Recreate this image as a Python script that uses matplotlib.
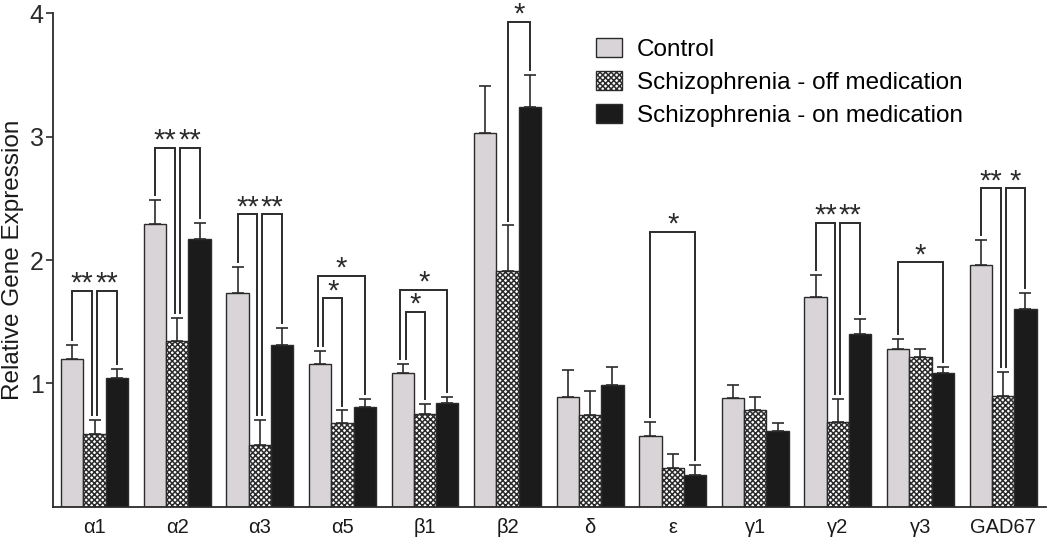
import matplotlib
matplotlib.use("Agg")
import matplotlib.pyplot as plt
import numpy as np

plt.rcParams['font.family'] = ['Liberation Sans', 'DejaVu Sans']
plt.rcParams['hatch.linewidth'] = 1.1

# %% data
genes = ['α1', 'α2', 'α3', 'α5', 'β1', 'β2', 'δ', 'ε', 'γ1', 'γ2', 'γ3', 'GAD67']
series = ['Control', 'Schizophrenia - off medication', 'Schizophrenia - on medication']

control = [1.20, 2.29, 1.73, 1.16, 1.08, 3.03, 0.89, 0.57, 0.88, 1.70, 1.28, 1.96]
control_err = [0.11, 0.20, 0.21, 0.10, 0.08, 0.38, 0.22, 0.12, 0.11, 0.18, 0.08, 0.20]
off_med = [0.59, 1.34, 0.50, 0.68, 0.75, 1.91, 0.74, 0.31, 0.78, 0.69, 1.21, 0.90]
off_med_err = [0.11, 0.19, 0.20, 0.10, 0.08, 0.37, 0.20, 0.12, 0.11, 0.18, 0.07, 0.19]
on_med = [1.04, 2.17, 1.31, 0.81, 0.84, 3.24, 0.99, 0.26, 0.61, 1.40, 1.08, 1.60]
on_med_err = [0.08, 0.13, 0.14, 0.06, 0.05, 0.26, 0.14, 0.08, 0.07, 0.12, 0.05, 0.13]

# significance: (gene index, bar a, bar b, bracket height, label)
sig_gene = [0, 0, 1, 1, 2, 2, 3, 3, 4, 4, 5, 7, 9, 9, 10, 11, 11]
sig_a = [0, 1, 0, 1, 0, 1, 0, 0, 0, 0, 1, 0, 0, 1, 0, 0, 1]
sig_b = [1, 2, 1, 2, 1, 2, 2, 1, 2, 1, 2, 2, 1, 2, 2, 1, 2]
sig_y = [1.75, 1.75, 2.91, 2.91, 2.37, 2.37, 1.87, 1.69, 1.76, 1.58, 3.93, 2.23,
         2.30, 2.30, 1.98, 2.58, 2.58]
sig_label = ['**', '**', '**', '**', '**', '**', '*', '*', '*', '*', '*', '*',
             '**', '**', '*', '**', '*']

# %%
ink = '#2b2b2b'
fig = plt.figure(figsize=(10.5, 5.41), dpi=100)
ax = fig.add_axes([0.0508, 0.0634, 0.9454, 0.912])

x = np.arange(len(genes))
w = 0.27
vals = [control, off_med, on_med]
errs = [control_err, off_med_err, on_med_err]
faces = ['#d8d4d7', 'white', '#1b1b1b']
hatches = [None, 'xxxxxx', None]

for k in range(3):
    xs = x + (k - 1) * w
    ax.bar(xs, vals[k], w, color=faces[k], edgecolor=ink, linewidth=1.0,
           hatch=hatches[k], label=series[k], zorder=2)
    ax.errorbar(xs, vals[k], yerr=[np.zeros(len(genes)), errs[k]], fmt='none',
                ecolor=ink, elinewidth=1.2, capsize=4, capthick=1.2, zorder=1)

# brackets
tops = [np.array(v) + np.array(e) for v, e in zip(vals, errs)]
for i in range(len(sig_gene)):
    g, a, b, h = sig_gene[i], sig_a[i], sig_b[i], sig_y[i]
    xa = g + (a - 1) * w
    xb = g + (b - 1) * w
    # nudge legs so neighbouring brackets don't share a line
    others = [j for j in range(len(sig_gene)) if sig_gene[j] == g and j != i]
    for j in others:
        if sig_a[j] == b:
            xb -= 0.03
        if sig_b[j] == a:
            xa += 0.03
        if sig_a[j] == a and sig_b[j] > b:
            xa += 0.035
        if sig_a[j] == a and sig_b[j] < b:
            xa -= 0.03
    ya = tops[a][g] + 0.04
    yb = tops[b][g] + 0.04
    ax.plot([xa, xa, xb, xb], [ya, h, h, yb], color=ink, lw=1.4,
            clip_on=False, zorder=3, solid_joinstyle='miter')
    ax.annotate(sig_label[i], ((xa + xb) / 2, h), xytext=(0, -5),
                textcoords='offset points', ha='center', va='bottom',
                fontsize=21, color=ink, annotation_clip=False)

ax.set_xlim(-0.5, 11.52)
ax.set_ylim(0, 4)
ax.set_yticks([1, 2, 3, 4])
ax.set_xticks(x)
ax.set_xticklabels(genes, fontsize=14.5, color='#1a1a1a')
ax.tick_params(axis='x', length=0, pad=8)
ax.tick_params(axis='y', length=5, width=1.2, colors=ink, labelsize=18, pad=2)
for s in ['top', 'right']:
    ax.spines[s].set_visible(False)
for s in ['left', 'bottom']:
    ax.spines[s].set_linewidth(1.3)
    ax.spines[s].set_color(ink)
ax.set_ylabel('Relative Gene Expression', fontsize=17.5, color='#1a1a1a', labelpad=4)

ax.legend(loc='upper left', bbox_to_anchor=(0.568, 0.93), bbox_transform=fig.transFigure,
          frameon=False, fontsize=17.5, handlelength=1.07, handleheight=0.85,
          handletextpad=0.6, labelspacing=0.4, borderpad=0, borderaxespad=0)

plt.savefig('out.png', dpi=100)
